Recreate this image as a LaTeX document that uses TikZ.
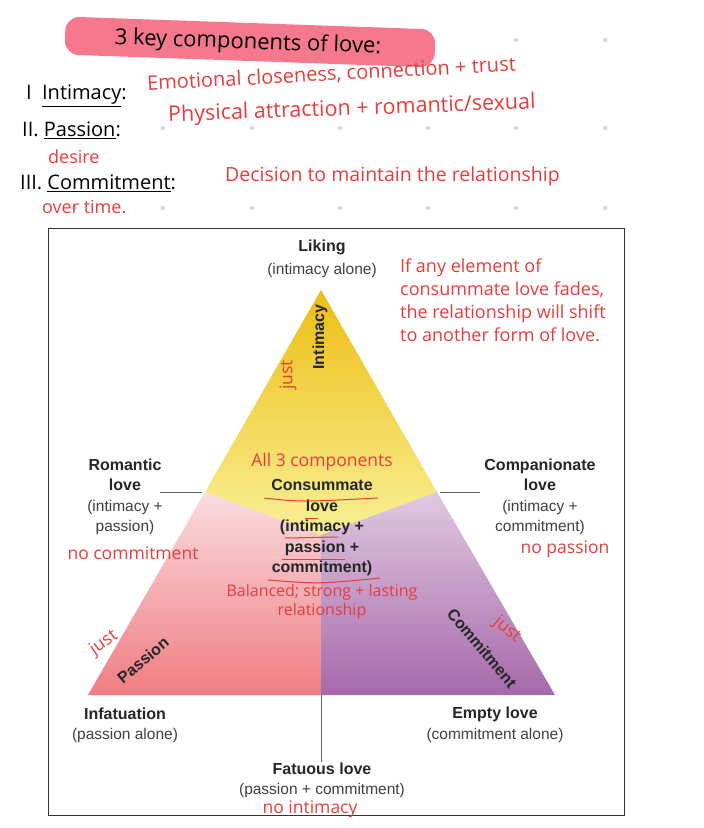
\documentclass[tikz,border=0pt]{standalone}
\usepackage{fontspec}
\setmainfont{Liberation Sans}
\newfontfamily\hand{Open Sans}
\definecolor{gold}{RGB}{236,190,20}
\definecolor{lemon}{RGB}{250,240,150}
\definecolor{pinktop}{RGB}{250,220,225}
\definecolor{salmon}{RGB}{240,125,130}
\definecolor{lav}{RGB}{225,200,225}
\definecolor{purp}{RGB}{165,105,170}
\definecolor{hlpink}{RGB}{245,120,140}
\definecolor{inkred}{RGB}{232,60,60}
\begin{document}
\begin{tikzpicture}[x=1pt,y=-1pt,
  lbl/.style={font=\fontsize{15.5}{20}\selectfont, text=black!75, align=center, inner sep=0pt},
  bl/.style={font=\bfseries\fontsize{16}{20}\selectfont, text=black!85, align=center, inner sep=0pt},
  note/.style={font=\hand\fontsize{17.5}{20}\selectfont, text=inkred, inner sep=0pt},
  ink/.style={font=\hand\fontsize{20}{22}\selectfont, text=black, inner sep=0pt},
  redline/.style={draw=inkred, line width=1pt},
  tick/.style={draw=black!60, line width=0.7pt}]
\useasboundingbox (0,0) rectangle (704,828);
\fill[white] (0,0) rectangle (704,828);
% grid dots
\foreach \x in {74,163,252,340,428,516,605}{
  \foreach \y in {40,128,208}{\fill[black!15] (\x,\y) circle (2.2);}}
% header
\node[fill=hlpink, rounded corners=14pt, minimum width=370, minimum height=38, rotate=-2] (hl) at (250,42) {};
\node[ink, font=\hand\fontsize{22}{24}\selectfont, rotate=-2] (title) at (248,43) {3 key components of love:};
\node[ink, anchor=west] (i1) at (26,96) {I \ \underline{Intimacy}:};
\node[note, anchor=west, font=\hand\fontsize{20}{22}\selectfont, rotate=3] (n1) at (147,84) {Emotional closeness, connection + trust};
\node[ink, anchor=west] (i2) at (22,130) {II. \underline{Passion}:};
\node[note, anchor=west, font=\hand\fontsize{21.5}{24}\selectfont, rotate=2] (n2) at (168,116) {Physical attraction + romantic/sexual};
\node[note, anchor=west, font=\hand\fontsize{18}{20}\selectfont] (n2b) at (48,157) {desire};
\node[ink, anchor=west] (i3) at (20,183) {III. \underline{Commitment}:};
\node[note, anchor=west, font=\hand\fontsize{19.5}{22}\selectfont] (n3) at (225,176) {Decision to maintain the relationship};
\node[note, anchor=west, font=\hand\fontsize{18}{20}\selectfont] (n3b) at (42,207) {over time.};
% frame
\draw[black!80, line width=0.8pt] (48,228) rectangle (624,815);
% triangle regions
\coordinate (A) at (321,290); \coordinate (L) at (88,695); \coordinate (R) at (555,695);
\coordinate (ML) at (205,492); \coordinate (MR) at (437,492); \coordinate (C) at (321,535);
\coordinate (B) at (321,695);
\shade[top color=gold, bottom color=lemon] (A) -- (MR) -- (C) -- (ML) -- cycle;
\shade[top color=pinktop, bottom color=salmon] (ML) -- (C) -- (B) -- (L) -- cycle;
\shade[top color=lav, bottom color=purp] (MR) -- (C) -- (B) -- (R) -- cycle;
% ticks
\draw[tick] (160,492) -- (202,492);
\draw[tick] (440,492) -- (480,492);
\draw[tick] (B) -- (321,762);
% labels
\node[bl] (lik) at (322,247) {Liking};
\node[lbl] (likb) at (322,270) {(intimacy alone)};
\node[bl] (rom) at (125,475) {Romantic\\love};
\node[lbl] (romb) at (125,517) {(intimacy +\\passion)};
\node[bl] (comp) at (540,475) {Companionate\\love};
\node[lbl] (compb) at (540,517) {(intimacy +\\commitment)};
\node[bl, font=\bfseries\fontsize{16}{20.5}\selectfont] (cons) at (322,528) {Consummate\\love\\(intimacy +\\passion +\\commitment)};
\node[bl] (inf) at (125,714) {Infatuation};
\node[lbl] (infb) at (125,735) {(passion alone)};
\node[bl] (emp) at (495,714) {Empty love};
\node[lbl] (empb) at (495,735) {(commitment alone)};
\node[bl] (fat) at (322,769) {Fatuous love};
\node[lbl] (fatb) at (322,790) {(passion + commitment)};
\node[bl, rotate=90] (int) at (320,337) {Intimacy};
\node[bl, rotate=40] (pas) at (143,660) {Passion};
\node[bl, rotate=-50] (com) at (482,648) {Commitment};
% red notes
\node[note, anchor=west, align=left, font=\hand\fontsize{18}{23}\selectfont] (fade) at (400,300) {If any element of\\consummate love fades,\\the relationship will shift\\to another form of love.};
\node[note, rotate=90] (j1) at (288,375) {just};
\node[note] (all3) at (322,462) {All 3 components};
\node[note] (nocom) at (133,553) {no commitment};
\node[note] (nopas) at (565,549) {no passion};
\node[note, align=center, font=\hand\fontsize{16}{19}\selectfont] (bal) at (322,602) {Balanced; strong + lasting\\relationship};
\node[note, rotate=35] (j2) at (104,643) {just};
\node[note, rotate=-40] (j3) at (507,630) {just};
\node[note] (noint) at (310,809) {no intimacy};
% red underlines
\draw[redline] (264,498) .. controls (300,502) .. (378,498);
\draw[redline] (305,518) -- (318,518);
\draw[redline] (285,538) -- (338,537);
\draw[redline] (282,559) -- (345,559);
\draw[redline] (268,580) .. controls (320,584) .. (380,578);
\end{tikzpicture}
\end{document}
